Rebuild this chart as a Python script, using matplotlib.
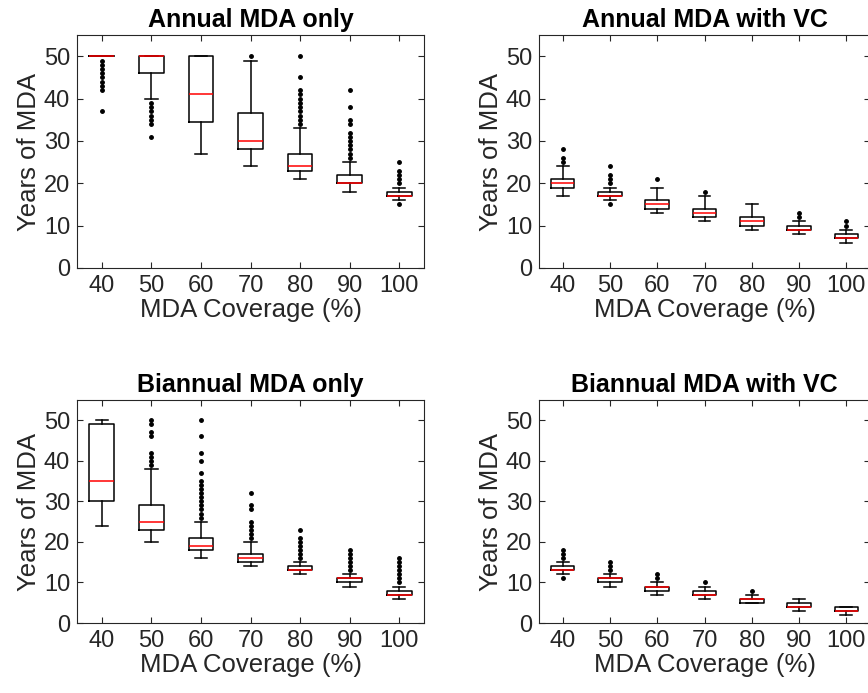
import matplotlib.pyplot as plt

plt.rcParams['font.family'] = ['Liberation Sans', 'DejaVu Sans']

coverage = [40, 50, 60, 70, 80, 90, 100]

# Annual MDA only
ann_med = [50, 50, 41, 30, 24, 20, 17]
ann_q1 = [50, 46, 34.5, 28, 23, 20, 17]
ann_q3 = [50, 50, 50, 36.5, 27, 22, 18]
ann_lo = [50, 40, 27, 24, 21, 18, 16]
ann_hi = [50, 50, 50, 49, 33, 25, 19]
ann_fliers = [[49, 48, 47, 46, 45, 44, 43, 42, 37],
              [39, 38, 37, 36, 35, 34, 31],
              [],
              [50],
              [50, 45, 42, 41, 40, 39, 38, 37, 36, 35, 34],
              [42, 38, 35, 34, 32, 31, 30, 29, 28, 27, 26],
              [25, 23, 22, 21, 20, 15]]

# Annual MDA with VC
annvc_med = [20, 17, 15, 13, 11, 9, 7]
annvc_q1 = [19, 17, 14, 12, 10, 9, 7]
annvc_q3 = [21, 18, 16, 14, 12, 10, 8]
annvc_lo = [17, 16, 13, 11, 9, 8, 6]
annvc_hi = [24, 19, 19, 17, 15, 11, 9]
annvc_fliers = [[25, 26, 28], [20, 21, 22, 24, 15], [21], [18], [], [12, 13], [10, 11]]

# Biannual MDA only
bi_med = [35, 25, 19, 16, 13, 11, 7]
bi_q1 = [30, 23, 18, 15, 13, 10, 7]
bi_q3 = [49, 29, 21, 17, 14, 11, 8]
bi_lo = [24, 20, 16, 14, 12, 9, 6]
bi_hi = [50, 38, 25, 20, 15, 12, 9]
bi_fliers = [[],
             [50, 49, 47, 46, 42, 41, 40, 39],
             [50, 46, 42, 40, 37, 35, 34, 33, 32, 31, 30, 29, 28, 27, 26],
             [32, 29, 28, 25, 24, 23, 22, 21],
             [23, 21, 20, 19, 18, 17, 16],
             [18, 17, 16, 15, 14, 13],
             [16, 15, 14, 13, 12, 11, 10]]

# Biannual MDA with VC
bivc_med = [13, 11, 9, 7, 6, 4, 3]
bivc_q1 = [13, 10, 8, 7, 5, 4, 3]
bivc_q3 = [14, 11, 9, 8, 6, 5, 4]
bivc_lo = [12, 9, 7, 6, 5, 3, 2]
bivc_hi = [15, 12, 10, 9, 7, 6, 4]
bivc_fliers = [[16, 17, 18, 11], [13, 14, 15], [11, 12], [10], [8], [], []]

panels = [
    ("Annual MDA only", ann_med, ann_q1, ann_q3, ann_lo, ann_hi, ann_fliers,
     [0.0887, 0.6133, 0.3998, 0.336]),
    ("Annual MDA with VC", annvc_med, annvc_q1, annvc_q3, annvc_lo, annvc_hi, annvc_fliers,
     [0.621, 0.6133, 0.3813, 0.336]),
    ("Biannual MDA only", bi_med, bi_q1, bi_q3, bi_lo, bi_hi, bi_fliers,
     [0.0887, 0.101, 0.3998, 0.3218]),
    ("Biannual MDA with VC", bivc_med, bivc_q1, bivc_q3, bivc_lo, bivc_hi, bivc_fliers,
     [0.621, 0.101, 0.3813, 0.3218]),
]

fig = plt.figure(figsize=(8.68, 6.93), dpi=100)
dark = (0.15, 0.15, 0.15)

for title, med, q1, q3, lo, hi, fl, pos in panels:
    ax = fig.add_axes(pos)
    stats = []
    for i in range(len(coverage)):
        stats.append(dict(med=med[i], q1=q1[i], q3=q3[i], whislo=lo[i],
                          whishi=hi[i], fliers=fl[i]))
    ax.bxp(stats, positions=range(1, 8), widths=0.5, capwidths=0.25,
           showfliers=True,
           boxprops=dict(color='black', linewidth=1.1),
           whiskerprops=dict(color='black', linewidth=1.1),
           capprops=dict(color='black', linewidth=1.1),
           medianprops=dict(color='red', linewidth=1.1, zorder=5),
           flierprops=dict(marker='.', markersize=5, markerfacecolor='black',
                           markeredgecolor='black', linestyle='none'))
    ax.set_xlim(0.5, 7.5)
    ax.set_ylim(0, 55)
    ax.set_xticks(range(1, 8))
    ax.set_xticklabels([str(c) for c in coverage])
    ax.set_yticks([0, 10, 20, 30, 40, 50])
    ax.tick_params(direction='in', top=True, right=True, length=4,
                   width=0.8, color=dark, labelcolor=dark, labelsize=17, pad=5)
    for s in ax.spines.values():
        s.set_color(dark)
        s.set_linewidth(0.8)
    ax.set_title(title, fontsize=18, fontweight='bold', pad=6)
    ax.set_xlabel("MDA Coverage (%)", fontsize=18.5, color=dark, labelpad=1)
    ax.set_ylabel("Years of MDA", fontsize=18.5, color=dark, labelpad=2)

fig.savefig("out.png", dpi=100)
